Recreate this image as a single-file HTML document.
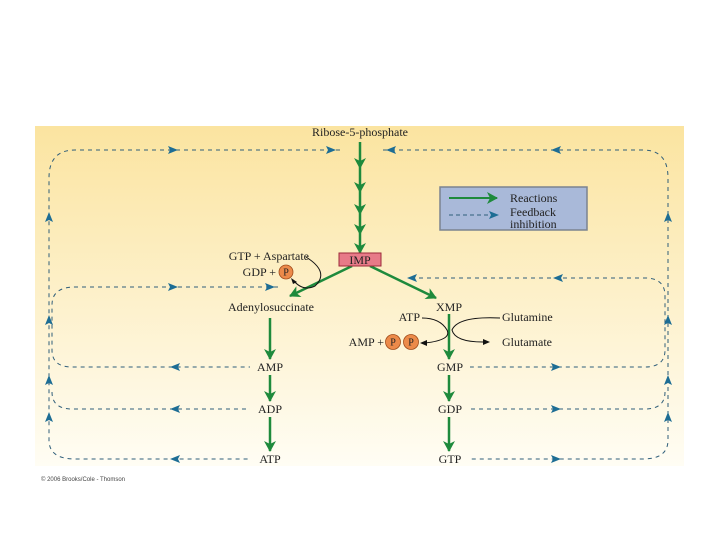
<!DOCTYPE html>
<html><head><style>
body{margin:0;width:720px;height:540px;background:#fff;overflow:hidden}
</style></head><body>
<svg width="720" height="540" viewBox="0 0 720 540" xmlns="http://www.w3.org/2000/svg" font-family="Liberation Serif, serif" fill="#222">
<defs>
<linearGradient id="bg" x1="0" y1="0" x2="0" y2="1">
<stop offset="0" stop-color="#fbe4a0"/><stop offset="1" stop-color="#fffdf4"/>
</linearGradient>
<marker id="g" markerWidth="12" markerHeight="12" refX="10" refY="6" orient="auto" markerUnits="userSpaceOnUse"><path d="M0,0 L11,6 L0,12 L3,6z" fill="#1e8a3c"/></marker>
</defs>
<rect x="35" y="126" width="649" height="340" fill="url(#bg)"/>
<g fill="none" stroke="#2f5e7a" stroke-width="1" stroke-dasharray="4,4">
<path d="M340,150 H75 Q49,150 49,178 V440 Q49,459 75,459 H250"/>
<path d="M383,150 H643 Q668,150 668,178 V440 Q668,459 643,459 H470"/>
<path d="M278,287 H75 Q52,287 52,305 V350 Q52,367 72,367 H250"/>
<path d="M52,392 Q52,409 72,409 H250"/>
<path d="M411,278 H645 Q665,278 665,296 V350 Q665,367 645,367 H470"/>
<path d="M665,392 Q665,409 645,409 H470"/>
</g>
<g fill="#1d6d94">
<path d="M168,146 L178,150 L168,154 L170,150z"/>
<path d="M326,146 L336,150 L326,154 L328,150z"/>
<path d="M396,146 L386,150 L396,154 L394,150z"/>
<path d="M561,146 L551,150 L561,154 L559,150z"/>
<path d="M168,283 L178,287 L168,291 L170,287z"/>
<path d="M265,283 L275,287 L265,291 L267,287z"/>
<path d="M417,274 L407,278 L417,282 L415,278z"/>
<path d="M563,274 L553,278 L563,282 L561,278z"/>
<path d="M180,363 L170,367 L180,371 L178,367z"/>
<path d="M180,405 L170,409 L180,413 L178,409z"/>
<path d="M180,455 L170,459 L180,463 L178,459z"/>
<path d="M551,363 L561,367 L551,371 L553,367z"/>
<path d="M551,405 L561,409 L551,413 L553,409z"/>
<path d="M551,455 L561,459 L551,463 L553,459z"/>
<g id="up"><path d="M45,222 L49,212 L53,222 L49,220z"/><path d="M45,325 L49,315 L53,325 L49,323z"/><path d="M45,385 L49,375 L53,385 L49,383z"/><path d="M45,422 L49,412 L53,422 L49,420z"/></g>
<use href="#up" x="619"/>
</g>
<g stroke="#1e8a3c" stroke-width="2.5" fill="none" marker-end="url(#g)">
<path d="M360,142 V168"/><path d="M360,168 V192"/><path d="M360,192 V214"/><path d="M360,214 V234"/><path d="M360,234 V253"/>
<path d="M352,266 L290,296"/><path d="M370,266 L436,298"/>
<path d="M270,318 V359"/><path d="M270,375 V401"/><path d="M270,417 V451"/>
<path d="M449,314 V359"/><path d="M449,375 V401"/><path d="M449,417 V451"/>
</g>
<g fill="none" stroke="#111" stroke-width="1">
<path d="M306,257 Q330,272 315,286 Q303,292 293,280"/>
<path d="M422,318 Q440,318 447,330 Q452,340 425,343"/>
<path d="M500,318 Q458,316 452,330 Q455,342 483,342"/>
</g>
<path d="M291,278 L297,282 L293,284z" fill="#111"/>
<path d="M420,343 L427,340 L427,346z" fill="#111"/>
<path d="M490,342 L483,339 L483,345z" fill="#111"/>
<rect x="339" y="253" width="42" height="13" fill="#e77a88" stroke="#9c2a3a"/>
<text x="360" y="264" font-size="12" text-anchor="middle">IMP</text>
<rect x="440" y="187" width="147" height="43" fill="#a9b9d9" stroke="#7b8390" stroke-width="1.5"/>
<path d="M449,198 H497" stroke="#1e8a3c" stroke-width="2" marker-end="url(#g)"/>
<path d="M449,215 H492" stroke="#2f5e7a" stroke-dasharray="4,3"/>
<path d="M489,211 L499,215 L489,219 L491,215z" fill="#1d6d94"/>
<g font-size="12">
<text x="510" y="202">Reactions</text><text x="510" y="216">Feedback</text><text x="510" y="228">inhibition</text>
<text x="360" y="136" text-anchor="middle">Ribose-5-phosphate</text>
<text x="309" y="260" text-anchor="end">GTP + Aspartate</text>
<text x="276" y="276" text-anchor="end">GDP +</text>
<text x="271" y="311" text-anchor="middle">Adenylosuccinate</text>
<text x="449" y="311" text-anchor="middle">XMP</text>
<text x="420" y="321" text-anchor="end">ATP</text>
<text x="384" y="346" text-anchor="end">AMP +</text>
<text x="502" y="321">Glutamine</text>
<text x="502" y="346">Glutamate</text>
<text x="270" y="371" text-anchor="middle">AMP</text>
<text x="270" y="413" text-anchor="middle">ADP</text>
<text x="270" y="463" text-anchor="middle">ATP</text>
<text x="450" y="371" text-anchor="middle">GMP</text>
<text x="450" y="413" text-anchor="middle">GDP</text>
<text x="450" y="463" text-anchor="middle">GTP</text>
</g>
<g fill="#ec8a4a" stroke="#a04b1a" stroke-width="0.8">
<circle cx="286" cy="272" r="7"/><circle cx="393" cy="342" r="7.5"/><circle cx="411" cy="342" r="7.5"/>
</g>
<g font-size="10" text-anchor="middle"><text x="286" y="275.5">P</text><text x="393" y="345.5">P</text><text x="411" y="345.5">P</text></g>
<text x="41" y="481" font-size="6" font-family="Liberation Sans, sans-serif" fill="#444">© 2006 Brooks/Cole - Thomson</text>
</svg>
</body></html>
